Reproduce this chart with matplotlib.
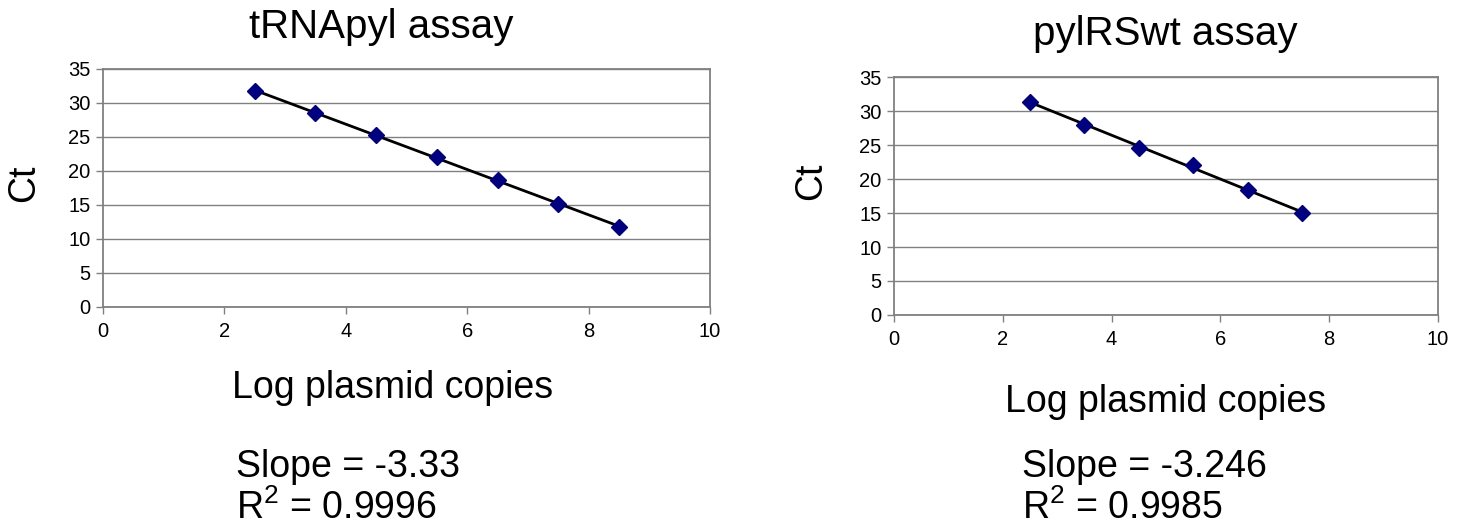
import numpy as np
import matplotlib
matplotlib.use("Agg")
import matplotlib.pyplot as plt

plt.rcParams['font.family'] = ['Liberation Sans', 'DejaVu Sans']
plt.rcParams['mathtext.fontset'] = 'custom'
plt.rcParams['mathtext.rm'] = 'Liberation Sans'
plt.rcParams['mathtext.it'] = 'Liberation Sans:italic'
plt.rcParams['mathtext.bf'] = 'Liberation Sans:bold'

# tRNApyl standard curve
trna_log_copies = [2.5, 3.5, 4.5, 5.5, 6.5, 7.5, 8.5]
trna_ct = [31.7, 28.6, 25.3, 22.0, 18.7, 15.1, 11.8]
trna_title = "tRNApyl assay"
trna_slope_text = "Slope = -3.33"
trna_r2_text = "R$^{2}$ = 0.9996"

# pylRSwt standard curve
pylrs_log_copies = [2.5, 3.5, 4.5, 5.5, 6.5, 7.5]
pylrs_ct = [31.3, 28.0, 24.6, 22.0, 18.4, 15.0]
pylrs_title = "pylRSwt assay"
pylrs_slope_text = "Slope = -3.246"
pylrs_r2_text = "R$^{2}$ = 0.9985"

x_ticks = [0, 2, 4, 6, 8, 10]
y_ticks = [0, 5, 10, 15, 20, 25, 30, 35]
x_label = "Log plasmid copies"
y_label = "Ct"

W, H = 1466, 527
fig = plt.figure(figsize=(W / 100, H / 100), dpi=100)

GRAY = "#808080"
NAVY = "#000080"


def px_box(x0, y0, x1, y1):
    """Axes rectangle from pixel corners (top-left origin)."""
    return [x0 / W, 1 - y1 / H, (x1 - x0) / W, (y1 - y0) / H]


def draw_curve(ax, x, y):
    x = np.asarray(x, dtype=float)
    y = np.asarray(y, dtype=float)
    slope, intercept = np.polyfit(x, y, 1)
    xf = np.array([x.min(), x.max()])
    ax.plot(xf, slope * xf + intercept, color="black", lw=2.0, zorder=3)
    ax.plot(x, y, linestyle="none", marker="D", ms=8.5, color=NAVY,
            markeredgecolor=NAVY, zorder=4)
    ax.set_xlim(0, 10)
    ax.set_ylim(0, 35)
    ax.set_xticks(x_ticks)
    ax.set_yticks(y_ticks)
    ax.yaxis.grid(True, color=GRAY, lw=1.0)
    ax.set_axisbelow(True)
    for s in ax.spines.values():
        s.set_color(GRAY)
        s.set_linewidth(1.3)
    ax.tick_params(axis="both", direction="out", length=5, width=1.0,
                   color=GRAY, labelsize=14.5, labelcolor="black")
    ax.tick_params(axis="y", pad=4)
    ax.tick_params(axis="x", pad=6)


ax1 = fig.add_axes(px_box(103, 69, 710, 307))
draw_curve(ax1, trna_log_copies, trna_ct)
ax2 = fig.add_axes(px_box(894, 77, 1438, 315))
draw_curve(ax2, pylrs_log_copies, pylrs_ct)

big = 27


def ftext(x, y, s, **kw):
    fig.text(x / W, 1 - y / H, s, **kw)


# titles
ftext(381, 27, trna_title, fontsize=29, ha="center", va="center")
ftext(1165, 34, pylrs_title, fontsize=29, ha="center", va="center")

# y labels
ftext(24, 183, y_label, fontsize=big, rotation=90, ha="center", va="center")
ftext(811, 181, y_label, fontsize=big, rotation=90, ha="center", va="center")

# x labels
ftext(393, 388, x_label, fontsize=big, ha="center", va="center")
ftext(1166, 402, x_label, fontsize=big, ha="center", va="center")

# fit statistics
ftext(236, 467, trna_slope_text, fontsize=big, ha="left", va="center")
ftext(236, 508, trna_r2_text, fontsize=big, ha="left", va="center")
ftext(1022, 467, pylrs_slope_text, fontsize=big, ha="left", va="center")
ftext(1022, 508, pylrs_r2_text, fontsize=big, ha="left", va="center")

fig.savefig("out.png", dpi=100, facecolor="white")
